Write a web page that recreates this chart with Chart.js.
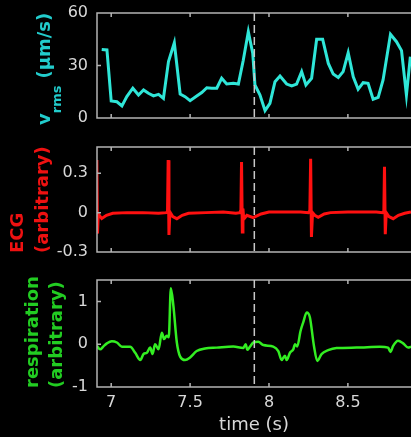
<!DOCTYPE html>
<html>
<head>
<meta charset="utf-8">
<script src="https://cdn.jsdelivr.net/npm/chart.js@4.4.1/dist/chart.umd.min.js"></script>
<style>
  html, body { margin: 0; padding: 0; background: #000; overflow: hidden; }
  #wrap { position: relative; width: 411px; height: 437px; }
  #wrap canvas { position: absolute; left: 0; top: 0; }
</style>
</head>
<body>
<div id="wrap">
  <canvas id="vrms" width="411" height="437"></canvas>
  <canvas id="ecg" width="411" height="437"></canvas>
  <canvas id="resp" width="411" height="437"></canvas>
</div>
<script>
// ---- data ----
const timeTicks = [7, 7.5, 8, 8.5];
const timeLabels = ['7', '7.5', '8', '8.5'];
const markTime = 7.907;

const vrmsTicks = [0, 30, 60];
const vrmsLabels = ['0', '30', '60'];
const vrmsTime = [6.94, 6.973, 7.0, 7.036, 7.068, 7.099, 7.137, 7.173, 7.205, 7.236, 7.268, 7.3, 7.331,
  7.363, 7.4, 7.437, 7.468, 7.5, 7.542, 7.574, 7.606, 7.637, 7.669, 7.7, 7.732, 7.774, 7.806, 7.837,
  7.869, 7.897, 7.911, 7.943, 7.975, 8.006, 8.038, 8.07, 8.112, 8.144, 8.175, 8.207, 8.234, 8.27,
  8.302, 8.34, 8.376, 8.407, 8.439, 8.47, 8.502, 8.534, 8.565, 8.597, 8.628, 8.66, 8.692, 8.723,
  8.77, 8.808, 8.84, 8.871, 8.896];
const vrmsValue = [39.2, 38.9, 9.7, 9.3, 6.9, 12.2, 17, 13.1, 16, 14.1, 12.6, 13.5, 11.2,
  32.2, 43, 13.7, 12.2, 9.9, 12.6, 14.5, 17.3, 17, 17, 22.7, 19.4, 19.8, 19.4, 33,
  49.3, 37, 18.9, 13.1, 4.2, 8.4, 20.7, 24, 19.4, 18.3, 19.4, 26.5, 18.9, 22.7,
  45, 45, 31.2, 25.1, 23.2, 26.5, 37.3, 23.6, 16.4, 20.2, 19.8, 10.7, 11.8, 21.7,
  47.8, 43.6, 38.5, 13.1, 35];

const ecgTicks = [-0.3, 0, 0.3];
const ecgLabels = ['-0.3', '0', '0.3'];
const ecgTime = [6.905, 6.909, 6.913, 6.918, 6.94, 6.97, 7.01, 7.1, 7.2, 7.3, 7.35, 7.357, 7.361,
  7.366, 7.372, 7.39, 7.416, 7.45, 7.49, 7.6, 7.71, 7.79, 7.815, 7.822, 7.826, 7.831, 7.835, 7.84,
  7.86, 7.9, 7.95, 8.0, 8.1, 8.2, 8.25, 8.259, 8.264, 8.269, 8.276, 8.29, 8.312, 8.35, 8.39, 8.5,
  8.6, 8.68, 8.72, 8.728, 8.732, 8.737, 8.743, 8.76, 8.787, 8.82, 8.86, 8.9];
const ecgValue = [0, 0.40, -0.16, -0.01, -0.045, -0.02, -0.005, 0, 0, -0.005, 0, 0.01, 0.40,
  -0.17, 0.005, -0.03, -0.046, -0.02, -0.005, 0, 0.005, -0.005, 0, 0.02, 0.385, -0.147, 0.03, -0.05,
  -0.02, -0.038, -0.01, 0.005, 0.005, 0.005, 0, 0.015, 0.41, -0.185, 0, -0.02, -0.035, -0.01, 0, 0.005,
  0.005, 0.005, 0, 0.01, 0.35, -0.165, 0, -0.03, -0.046, -0.02, -0.005, 0.005];

const respTicks = [-1, 0, 1];
const respLabels = ['-1', '0', '1'];
const respTime = [6.909, 6.93, 6.951, 6.973, 7.004, 7.036, 7.068, 7.12, 7.152, 7.184, 7.205, 7.226,
  7.247, 7.262, 7.278, 7.3, 7.321, 7.335, 7.352, 7.365, 7.378, 7.394, 7.416, 7.437, 7.468, 7.5,
  7.542, 7.595, 7.669, 7.774, 7.837, 7.852, 7.863, 7.88, 7.901, 7.932, 7.964, 8.027, 8.059, 8.08,
  8.101, 8.112, 8.133, 8.154, 8.165, 8.179, 8.2, 8.217, 8.239, 8.259, 8.285, 8.306, 8.333, 8.375,
  8.428, 8.555, 8.703, 8.755, 8.77, 8.787, 8.818, 8.85, 8.882, 8.9];
const respValue = [-0.04, -0.12, -0.05, 0.02, 0.07, 0.04, -0.06, -0.06, -0.2, -0.37, -0.23, -0.2,
  -0.08, -0.23, 0, -0.12, 0.27, 0.12, 0.2, 0.16, 1.31, 0.9, 0.04, -0.29, -0.37, -0.31,
  -0.16, -0.1, -0.08, -0.055, -0.09, 0, -0.13, -0.055, 0.04, 0.055, -0.02, -0.055, -0.16, -0.37,
  -0.27, -0.37, -0.2, -0.12, 0, -0.055, 0.31, 0.51, 0.74, 0.63, -0.04, -0.39, -0.23, -0.14,
  -0.09, -0.08, -0.06, -0.08, -0.18, -0.04, 0.08, 0.02, -0.08, -0.06];

// ---- styling ----
const FONT = 'DejaVu Sans';
const TEXT = '#d8d8d8';
const BOX = '#b4b4b4';

function pairs(xs, ys) {
  return xs.map((x, i) => ({ x: x, y: ys[i] }));
}

// box, inward ticks, dashed marker and the rotated y labels
const framePlugin = {
  id: 'frame',
  afterDatasetsDraw(chart, args, opts) {
    const ctx = chart.ctx;
    const a = chart.chartArea;
    const xs = chart.scales.x, ys = chart.scales.y;
    ctx.save();
    ctx.strokeStyle = BOX;
    ctx.lineWidth = 1.5;
    ctx.beginPath();
    ctx.moveTo(a.right + 2, a.top); ctx.lineTo(a.left, a.top);
    ctx.lineTo(a.left, a.bottom); ctx.lineTo(a.right + 2, a.bottom);
    xs.ticks.forEach(t => {
      const px = xs.getPixelForValue(t.value);
      ctx.moveTo(px, a.top); ctx.lineTo(px, a.top + 4);
      ctx.moveTo(px, a.bottom); ctx.lineTo(px, a.bottom - 4);
    });
    ys.ticks.forEach(t => {
      const py = ys.getPixelForValue(t.value);
      ctx.moveTo(a.left, py); ctx.lineTo(a.left + 4, py);
    });
    ctx.stroke();

    const mx = xs.getPixelForValue(markTime);
    ctx.strokeStyle = '#c8c8c8';
    ctx.setLineDash([8, 4]);
    ctx.beginPath();
    ctx.moveTo(mx, a.top); ctx.lineTo(mx, a.bottom);
    ctx.stroke();
    ctx.setLineDash([]);

    // y-axis labels, rotated, read bottom to top
    let y = 0;
    (opts.runs || []).forEach(r => {
      ctx.font = 'bold ' + r.size + 'px "' + FONT + '"';
      ctx.fillStyle = opts.color;
      if (r.y !== undefined) y = r.y;
      ctx.save();
      ctx.translate(r.x, y);
      ctx.rotate(-Math.PI / 2);
      ctx.textAlign = 'left';
      ctx.textBaseline = 'alphabetic';
      ctx.fillText(r.text, 0, 0);
      ctx.restore();
      y -= ctx.measureText(r.text).width + (r.gap || 0);
    });
    ctx.restore();
  }
};

function makeChart(id, cfg) {
  const showTime = !!cfg.showTime;
  return new Chart(document.getElementById(id), {
    type: 'line',
    data: {
      datasets: [{
        data: pairs(cfg.time, cfg.value),
        borderColor: cfg.line,
        borderWidth: cfg.width,
        pointRadius: 0,
        tension: cfg.smooth ? 0.3 : 0,
        cubicInterpolationMode: cfg.smooth ? 'monotone' : 'default',
        fill: false
      }]
    },
    options: {
      responsive: false,
      animation: false,
      devicePixelRatio: 1,
      layout: { padding: { top: cfg.top, bottom: cfg.bottom, left: 0, right: 0 } },
      plugins: {
        legend: { display: false },
        tooltip: { enabled: false },
        frame: { color: cfg.labelColor, runs: cfg.runs }
      },
      scales: {
        x: {
          type: 'linear',
          min: 6.91,
          max: 8.9,
          afterBuildTicks: s => { s.ticks = timeTicks.map(v => ({ value: v })); },
          afterFit: s => { s.height = showTime ? 50 : 0; s.paddingLeft = 0; s.paddingRight = 0; },
          grid: { display: false, drawTicks: false },
          border: { display: false },
          ticks: {
            display: showTime,
            padding: 6,
            color: TEXT,
            font: { family: FONT, size: 16 },
            maxRotation: 0,
            autoSkip: false,
            callback: v => timeLabels[timeTicks.indexOf(v)]
          },
          title: {
            display: showTime,
            text: 'time (s)',
            color: TEXT,
            font: { family: FONT, size: 18 },
            padding: { top: 0, bottom: 1 }
          }
        },
        y: {
          min: cfg.min,
          max: cfg.max,
          afterBuildTicks: s => { s.ticks = cfg.ticks.map(v => ({ value: v })); },
          afterFit: s => { s.width = 97; s.paddingTop = 0; s.paddingBottom = 0; },
          grid: { display: false, drawTicks: false },
          border: { display: false },
          ticks: {
            padding: 9,
            color: TEXT,
            font: { family: FONT, size: 16 },
            autoSkip: false,
            callback: v => cfg.labels[cfg.ticks.indexOf(v)]
          }
        }
      }
    },
    plugins: [framePlugin]
  });
}

makeChart('vrms', {
  time: vrmsTime, value: vrmsValue, ticks: vrmsTicks, labels: vrmsLabels,
  min: 0, max: 60, top: 13, bottom: 319,
  line: '#2fe6d8', width: 3, labelColor: '#22cccc',
  runs: [
    { text: 'v', size: 18, x: 50, y: 125 },
    { text: 'rms', size: 13, x: 61, gap: 7 },
    { text: '(\u03bcm/s)', size: 18, x: 50 }
  ]
});

makeChart('ecg', {
  time: ecgTime, value: ecgValue, ticks: ecgTicks, labels: ecgLabels,
  min: -0.3, max: 0.5, top: 147, bottom: 185,
  line: '#ff1010', width: 3, labelColor: '#ee1111',
  runs: [
    { text: 'ECG', size: 18, x: 23, y: 253 },
    { text: '(arbitrary)', size: 18, x: 48, y: 253 }
  ]
});

makeChart('resp', {
  time: respTime, value: respValue, ticks: respTicks, labels: respLabels,
  min: -1, max: 1.5, top: 280, bottom: 0, showTime: true, smooth: true,
  line: '#33ee22', width: 2.5, labelColor: '#22cc22',
  runs: [
    { text: 'respiration', size: 18, x: 38, y: 388 },
    { text: '(arbitrary)', size: 18, x: 62, y: 388 }
  ]
});
</script>
</body>
</html>
